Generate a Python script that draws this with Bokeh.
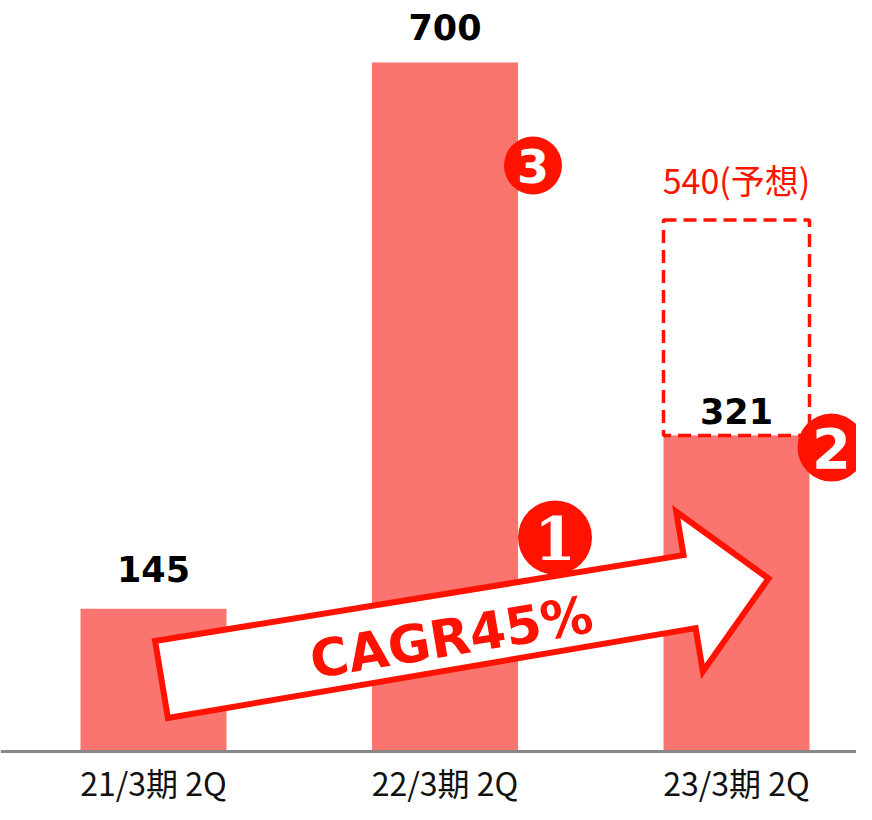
import numpy as np
from bokeh.plotting import figure
from bokeh.models import Range1d, Span
from bokeh.embed import file_html
from bokeh.resources import INLINE
from bokeh.core.properties import value

# ---------------- data ----------------
categories = ["21/3期 2Q", "22/3期 2Q", "23/3期 2Q"]
actual = [145, 700, 321]
forecast_value = 540
forecast_label = "540(予想)"
cagr_label = "CAGR45%"
marker_digits = ["1", "2", "3"]

# ---------------- style ----------------
BAR = "#FA7470"
RED = "#FF1200"
FW, FH = 856, 804           # figure/frame size in px
BASE = 751                  # baseline position from top, px
PXX = 291.5                 # px per category step
X0 = -153 / PXX
PXY = 689 / 700             # px per unit
W = 146 / PXX               # bar width

def dx(px):
    return px / PXX

def dy(px):
    return px / PXY

p = figure(width=FW, height=FH, output_backend="svg",
           toolbar_location=None, x_axis_location=None, y_axis_location=None,
           x_range=Range1d(X0, X0 + FW / PXX),
           y_range=Range1d(-(FH - BASE) / PXY, BASE / PXY),
           min_border_left=0, min_border_right=0, min_border_top=0,
           min_border_bottom=0)
p.outline_line_color = None
p.grid.visible = False
p.background_fill_color = "white"
p.border_fill_color = "white"

idx = np.arange(len(categories))

# bars
p.vbar(x=idx, top=actual, width=W, bottom=0, fill_color=BAR, line_color=None)

# baseline
p.add_layout(Span(location=0, dimension="width", line_color="#888888", line_width=3))

# category labels
p.text(x=idx, y=[-dy(30)] * len(idx), text=categories, text_align="center",
       text_baseline="middle", text_color="#111111",
       text_font=value("Noto Sans CJK JP"), text_font_size="32px")

# forecast dashed box
p.quad(left=[2 - W / 2], right=[2 + W / 2], bottom=[actual[2]], top=[forecast_value],
       fill_alpha=0, line_color=RED, line_width=3.5, line_dash="13 7")

# value labels
label_off = [39.5, 36, 25]
p.text(x=idx, y=[v + dy(o) for v, o in zip(actual, label_off)], text=[str(v) for v in actual],
       text_align="center", text_baseline="middle", text_color="black",
       text_font=value("DejaVu Sans"), text_font_style="bold", text_font_size="35px")

p.text(x=[2], y=[forecast_value + dy(40)], text=[forecast_label],
       text_align="center", text_baseline="middle", text_color=RED,
       text_font=value("Noto Sans CJK JP"), text_font_size="34px")

# marker 3
m3x, m3y = 1 + W / 2 + dx(15), actual[1] - dy(103)
p.scatter([m3x], [m3y], marker="circle", size=58, fill_color=RED, line_color=None)
p.text([m3x], [m3y], text=[marker_digits[2]], text_align="center", text_baseline="middle",
       text_color="white", text_font=value("DejaVu Sans"), text_font_style="bold",
       text_font_size="46px")

# arrow (built in pixel space, converted to data)
tail = np.array([(0 - X0) * PXX + 8, 72.0])
tip = np.array([(2 - X0) * PXX + 32, 173.0])
u = (tip - tail) / np.linalg.norm(tip - tail)
n = np.array([-u[1], u[0]])
base = tip - 80 * u
pts = [tail + 39 * n, base + 37 * n, base + 81 * n, tip,
       base - 81 * n, base - 37 * n, tail - 39 * n]
ax = [X0 + q[0] / PXX for q in pts]
ay = [q[1] / PXY for q in pts]
p.patch(ax, ay, fill_color="white", line_color=RED, line_width=6, line_join="miter")

ang = float(np.arctan2(u[1], u[0]))
s = (450 - tail[0]) / u[0]
c = tail + s * u - 6 * n
p.text([X0 + c[0] / PXX], [c[1] / PXY], text=[cagr_label], angle=ang,
       text_align="center", text_baseline="middle", text_color=RED,
       text_font=value("DejaVu Sans"), text_font_style="bold", text_font_size="52px")

# marker 1
m1x, m1y = 1 + W / 2 + dx(37), dy(214)
p.scatter([m1x], [m1y], marker="circle", size=74, fill_color=RED, line_color=None)
p.text([m1x], [m1y], text=[marker_digits[0]], text_align="center", text_baseline="middle",
       text_color="white", text_font=value("DejaVu Serif"), text_font_style="bold",
       text_font_size="60px")

# marker 2 (nudged left so it stays inside the page)
m2x, m2y = 2 + W / 2 + dx(22), actual[2] - dy(12)
p.scatter([m2x], [m2y], marker="circle", size=68, fill_color=RED, line_color=None)
p.text([m2x], [m2y], text=[marker_digits[1]], text_align="center", text_baseline="middle",
       text_color="white", text_font=value("DejaVu Sans"), text_font_style="bold",
       text_font_size="56px")

open("out.html", "w").write(file_html(p, INLINE))
